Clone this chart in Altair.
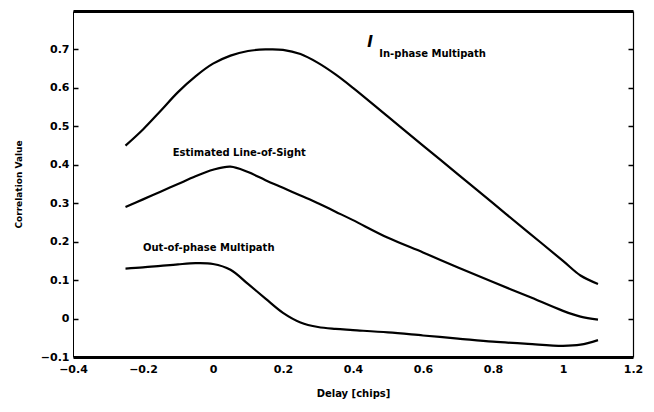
import altair as alt
import pandas as pd

# Delay grid (chips)
delay = [-0.25, -0.2, -0.15, -0.1, -0.05, 0.0, 0.05, 0.1, 0.15, 0.2, 0.25, 0.3,
         0.35, 0.4, 0.5, 0.6, 0.7, 0.8, 0.9, 1.0, 1.05, 1.1]

in_phase = [0.45, 0.492, 0.54, 0.589, 0.63, 0.663, 0.684, 0.696, 0.70, 0.699, 0.688, 0.665,
            0.635, 0.60, 0.525, 0.45, 0.375, 0.30, 0.225, 0.15, 0.112, 0.09]

line_of_sight = [0.29, 0.31, 0.33, 0.35, 0.37, 0.387, 0.395, 0.381, 0.36, 0.34, 0.32, 0.30,
                 0.278, 0.256, 0.21, 0.172, 0.133, 0.095, 0.058, 0.02, 0.005, -0.003]

out_phase = [0.13, 0.133, 0.137, 0.141, 0.144, 0.142, 0.127, 0.09, 0.052, 0.015, -0.01, -0.022,
             -0.027, -0.03, -0.036, -0.044, -0.052, -0.06, -0.066, -0.071, -0.068, -0.056]

series_names = ["In-phase Multipath", "Estimated Line-of-Sight", "Out-of-phase Multipath"]

label_text = ["In-phase Multipath", "Estimated Line-of-Sight", "Out-of-phase Multipath", "l"]
label_x = [0.475, -0.115, -0.2, 0.44]
label_y = [0.688, 0.43, 0.183, 0.72]

x_ticks = [-0.4, -0.2, 0, 0.2, 0.4, 0.6, 0.8, 1, 1.2]
y_ticks = [-0.1, 0, 0.1, 0.2, 0.3, 0.4, 0.5, 0.6, 0.7]
y_inner_ticks = [0, 0.1, 0.2, 0.3, 0.4, 0.5, 0.6, 0.7]

rows = []
for name, vals in zip(series_names, [in_phase, line_of_sight, out_phase]):
    for xv, yv in zip(delay, vals):
        rows.append({"series": name, "x": xv, "y": yv})
df = pd.DataFrame(rows)

labels = pd.DataFrame({"text": label_text, "x": label_x, "y": label_y,
                       "italic": [False, False, False, True]})

FONT = "DejaVu Sans"
xscale = alt.Scale(domain=[-0.4, 1.2], nice=False, zero=False)
yscale = alt.Scale(domain=[-0.1, 0.8], nice=False, zero=False)
W, H = 560, 346

lines = alt.Chart(df).mark_line(color="black", strokeWidth=2.2, interpolate="catmull-rom").encode(
    x=alt.X("x:Q", scale=xscale, axis=alt.Axis(
        orient="bottom", values=x_ticks, format="~g", grid=False, ticks=False,
        labelFlush=False, labelOverlap=False,
        domainColor="black", domainWidth=3, labelFont=FONT, labelFontWeight="bold",
        labelFontSize=11, labelColor="black", labelPadding=6, title="Delay [chips]",
        titleFont=FONT, titleFontWeight="bold", titleFontSize=10, titleColor="black",
        titlePadding=14)),
    y=alt.Y("y:Q", scale=yscale, axis=alt.Axis(
        orient="left", values=y_ticks, format="~g", grid=False, ticks=False,
        labelFlush=False, labelOverlap=False,
        domainColor="black", domainWidth=1, labelFont=FONT, labelFontWeight="bold",
        labelFontSize=11, labelColor="black", labelPadding=4, title="Correlation Value",
        titleFont=FONT, titleFontWeight="bold", titleFontSize=9, titleColor="black",
        titlePadding=17)),
    detail="series:N",
)

frame_a = alt.Chart(df).mark_line(strokeOpacity=0).encode(
    x=alt.X("x:Q", scale=xscale, axis=alt.Axis(
        orient="top", grid=False, ticks=False, labels=False, domainColor="black",
        domainWidth=3, title=None)),
    y=alt.Y("y:Q", scale=yscale, axis=alt.Axis(
        orient="right", offset=-W, values=y_inner_ticks, grid=False, domain=False,
        ticks=True, tickSize=5, tickWidth=1.5, tickColor="black", labels=False, title=None)),
    detail="series:N",
)

frame_b = alt.Chart(df).mark_line(strokeOpacity=0).encode(
    x=alt.X("x:Q", scale=xscale, axis=None),
    y=alt.Y("y:Q", scale=yscale, axis=alt.Axis(
        orient="left", offset=-W, values=y_inner_ticks, grid=False, domain=True,
        domainColor="black", domainWidth=1.2, ticks=True, tickSize=5, tickWidth=1.5,
        tickColor="black", labels=False, title=None)),
    detail="series:N",
)

text_main = alt.Chart(labels[~labels["italic"]]).mark_text(
    align="left", baseline="middle", font=FONT, fontWeight="bold", fontSize=10, color="black"
).encode(
    x=alt.X("x:Q", scale=xscale, axis=None),
    y=alt.Y("y:Q", scale=yscale, axis=None),
    text="text:N",
)

text_mark = alt.Chart(labels[labels["italic"]]).mark_text(
    align="left", baseline="middle", font=FONT, fontStyle="italic", fontWeight="bold",
    fontSize=16, color="black"
).encode(
    x=alt.X("x:Q", scale=xscale, axis=None),
    y=alt.Y("y:Q", scale=yscale, axis=None),
    text="text:N",
)

chart = alt.layer(lines, frame_a, frame_b, text_main, text_mark).resolve_axis(
    x="independent", y="independent"
).properties(
    width=W, height=H,
    autosize=alt.AutoSizeParams(type="none"),
    padding={"left": 65, "top": 3, "right": 13, "bottom": 45},
    background="white",
).configure_view(stroke=None)

chart.save("out.html", embed_options={"renderer": "svg", "actions": False})
